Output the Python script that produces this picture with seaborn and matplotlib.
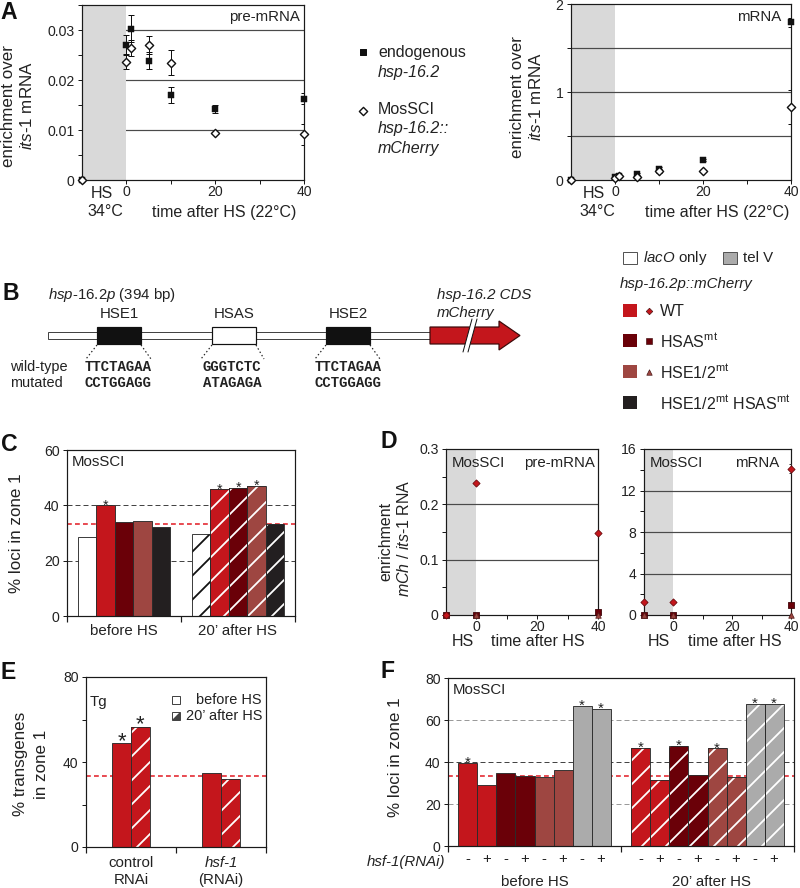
import numpy as np
import pandas as pd
import seaborn as sns
import matplotlib.pyplot as plt
from matplotlib.patches import Rectangle, Polygon
from matplotlib.transforms import offset_copy

sns.set_style("ticks")
plt.rcParams.update({
    'font.family': ['Liberation Sans', 'DejaVu Sans'],
    'mathtext.fontset': 'custom',
    'mathtext.rm': 'Liberation Sans',
    'mathtext.it': 'Liberation Sans:italic',
    'axes.edgecolor': '#1a1a1a',
    'axes.linewidth': 1.2,
    'xtick.color': '#1a1a1a', 'ytick.color': '#1a1a1a',
    'xtick.labelcolor': '#222', 'ytick.labelcolor': '#222',
    'xtick.direction': 'out', 'ytick.direction': 'out',
    'xtick.major.size': 4, 'ytick.major.size': 4,
    'xtick.minor.size': 4, 'ytick.minor.size': 4,
    'xtick.major.width': 1, 'ytick.major.width': 1,
    'xtick.minor.width': 1, 'ytick.minor.width': 1,
    'xtick.labelsize': 14, 'ytick.labelsize': 14,
    'hatch.linewidth': 1.8,
    'text.color': '#222',
})

# colours
RED, DRED, BRN, BLK, GRY = '#C4161C', '#6A0008', '#9E4641', '#231F20', '#ABABAB'

# ---- panel A: pre-mRNA / mRNA time course ----
a_time = [-10, 0, 1, 5, 10, 20, 40]
pre_endo = [0, 0.0271, 0.0303, 0.0239, 0.0170, 0.0143, 0.0163]
pre_endo_err = [0, 0.0020, 0.0027, 0.0017, 0.0016, 0.0008, 0.0011]
pre_mos = [0, 0.0237, 0.0265, 0.0270, 0.0235, 0.0094, 0.0092]
pre_mos_err = [0, 0.0015, 0.0016, 0.0018, 0.0025, 0.0002, 0.0021]
mrna_endo = [0, 0.03, 0.05, 0.07, 0.13, 0.23, 1.79]
mrna_endo_err = [0, 0.01, 0.01, 0.01, 0.02, 0.01, 0.05]
mrna_mos = [0, 0.02, 0.04, 0.03, 0.10, 0.10, 0.83]
mrna_mos_err = [0, 0.01, 0.01, 0.01, 0.02, 0.01, 0.19]

# ---- panel C: MosSCI loci in zone 1 ----
c_groups = ['before HS', '20’ after HS']
c_strains = ['lacO only', 'WT', 'HSASmt', 'HSE1/2mt', 'HSE1/2mt HSASmt']
c_colors = ['white', RED, DRED, BRN, BLK]
c_before = [28.4, 40.0, 34.0, 34.5, 32.3]
c_after = [29.5, 45.8, 46.4, 46.9, 33.1]
c_star_before = [0, 1, 0, 0, 0]
c_star_after = [0, 1, 1, 1, 0]

# ---- panel D: mCherry RNA ----
d_time = [-10, 0, 40]
d_pre_wt = [0, 0.238, 0.148]
d_pre_hsas = [0, 0, 0.006]
d_pre_hse = [0, 0, 0]
d_mrna_wt = [1.25, 1.25, 14.1]
d_mrna_wt_err = [0, 0, 0.45]
d_mrna_hsas = [0, 0, 0.95]
d_mrna_hse = [0, 0, 0]

# ---- panel E: transgenes ----
e_groups = ['control', 'hsf-1']
e_times = ['before HS', '20’ after HS']
e_control = [48.8, 56.7]
e_hsf1 = [34.6, 31.8]
e_star_control = [1, 1]
e_star_hsf1 = [0, 0]

# ---- panel F: MosSCI +/- hsf-1(RNAi) ----
f_groups = ['before HS', '20’ after HS']
f_strains = ['WT -', 'WT +', 'HSAS -', 'HSAS +', 'HSE -', 'HSE +', 'telV -', 'telV +']
f_colors = [RED, RED, DRED, DRED, BRN, BRN, GRY, GRY]
f_signs = ['-', '+', '-', '+', '-', '+', '-', '+']
f_before = [39.4, 29.0, 34.6, 33.3, 33.0, 36.0, 66.6, 65.2]
f_after = [46.9, 31.6, 47.8, 33.6, 46.5, 32.7, 67.6, 67.6]
f_star_before = [1, 0, 0, 0, 0, 0, 1, 1]
f_star_after = [1, 0, 1, 0, 1, 0, 1, 1]

RANDOM = 33.3

W, H = 800, 888
fig = plt.figure(figsize=(W / 72, H / 72), dpi=72)


def box(x0, y0, x1, y1):
    return fig.add_axes([x0 / W, 1 - y1 / H, (x1 - x0) / W, (y1 - y0) / H])


def time_axes(ax, ymax, grid, yticks, ylabels, minor_step, shade_top=False):
    ax.set_xlim(-10, 40)
    ax.set_ylim(0, ymax)
    ax.axvspan(-10, 0, color='#D9D9D9', lw=0, zorder=1.5 if shade_top else 0.5)
    for g in grid:
        ax.axhline(g, color='#4a4a4a', lw=1.2, zorder=1)
    ax.set_yticks(yticks, ylabels)
    ax.set_yticks(np.arange(0, ymax + minor_step / 2, minor_step), minor=True)
    ax.set_xticks([0, 20, 40], ['0', '20', '40'])
    ax.set_xticks([10, 30], minor=True)
    ax.tick_params(axis='x', which='major', pad=1)


def bars(ax, groups, hues, values, colors, width, hatched, stars, star_fs):
    df = pd.DataFrame({'group': [g for g in groups for h in hues],
                       'hue': [h for g in groups for h in hues],
                       'value': values})
    sns.barplot(data=df, x='group', y='value', hue='hue', order=groups, hue_order=hues,
                palette=dict(zip(hues, colors)), width=width, saturation=1,
                errorbar=None, legend=False, edgecolor='#2b2b2b', linewidth=0.9,
                zorder=2, ax=ax)
    patches = sorted(ax.patches, key=lambda p: p.get_x())
    star_tr = offset_copy(ax.transData, fig=fig, y=-4, units='points')
    for p, hatch, star, color in zip(patches, hatched, stars, colors * len(groups)):
        if hatch:
            p.set_hatch('/')
            p.set_edgecolor('#111' if color == 'white' else 'white')
            p.set_linewidth(0)
            ax.add_patch(Rectangle(p.get_xy(), p.get_width(), p.get_height(), fill=False,
                                   ec='#2b2b2b', lw=0.9, zorder=2.1))
        if star:
            ax.text(p.get_x() + p.get_width() / 2, p.get_height(), '*', ha='center',
                    va='baseline', fontsize=star_fs, transform=star_tr, color='#222')
    ax.set_xlabel('')
    ax.set_ylabel('')
    ax.set_xlim(-0.5, 1.5)
    ax.set_xticks([-0.5, 0.5, 1.5], minor=True)
    ax.tick_params(axis='x', which='minor', length=6, width=1.2)
    ax.tick_params(axis='x', which='major', length=0, pad=8, labelsize=15)
    ax.axhline(RANDOM, color='#E3232B', lw=1.6, ls=(0, (3, 2)), zorder=1.2)
    return patches


# ================= A =================
axA1 = box(82, 5, 304, 180)
time_axes(axA1, 0.035, [0.01, 0.02, 0.03], [0, 0.01, 0.02, 0.03],
          ['0', '0.01', '0.02', '0.03'], 0.005, shade_top=True)
axA2 = box(571, 4, 791, 180)
time_axes(axA2, 2, [0.5, 1.0, 1.5], [0, 1, 2], ['0', '1', '2'], 0.5)

for ax, endo, endo_e, mos, mos_e in [(axA1, pre_endo, pre_endo_err, pre_mos, pre_mos_err),
                                     (axA2, mrna_endo, mrna_endo_err, mrna_mos, mrna_mos_err)]:
    ax.errorbar(a_time, endo, yerr=endo_e, fmt='none', ecolor='#111', elinewidth=1,
                capsize=3, capthick=1, zorder=3)
    ax.errorbar(a_time, mos, yerr=mos_e, fmt='none', ecolor='#111', elinewidth=1,
                capsize=3, capthick=1, zorder=3)
    sns.scatterplot(x=a_time, y=endo, marker='s', color='#111', edgecolor='#111', s=32,
                    ax=ax, zorder=4, clip_on=False)
    sns.scatterplot(x=a_time, y=mos, marker='D', color='white', edgecolor='#111',
                    linewidth=1.4, s=34, ax=ax, zorder=5, clip_on=False)

# ================= C =================
axC = box(67, 450, 295, 616)
axC.set_ylim(0, 60)
for g in [20, 40]:
    axC.axhline(g, color='#444', lw=1, ls=(0, (5, 3)), zorder=1)
bars(axC, c_groups, c_strains, c_before + c_after, c_colors, 0.81,
     [False] * 5 + [True] * 5, c_star_before + c_star_after, 14)
axC.set_yticks([0, 20, 40, 60])

# ================= D =================
axD1 = box(446, 449, 598, 615)
time_axes(axD1, 0.3, [0.1, 0.2], [0, 0.1, 0.2, 0.3], ['0', '0.1', '0.2', '0.3'], 0.05)
axD2 = box(644, 449, 791, 615)
time_axes(axD2, 16, [4, 8, 12], [0, 4, 8, 12, 16], ['0', '4', '8', '12', '16'], 2)
axD2.errorbar(d_time, d_mrna_wt, yerr=d_mrna_wt_err, fmt='none', ecolor='#333',
              elinewidth=1, capsize=2.5, zorder=3)
for ax, wt, hsas, hse in [(axD1, d_pre_wt, d_pre_hsas, d_pre_hse),
                          (axD2, d_mrna_wt, d_mrna_hsas, d_mrna_hse)]:
    sns.scatterplot(x=d_time, y=hsas, marker='s', color=DRED, edgecolor='#3a0004',
                    linewidth=0.8, s=34, ax=ax, zorder=4, clip_on=False)
    sns.scatterplot(x=d_time, y=hse, marker='^', color=BRN, edgecolor='#5a2220',
                    linewidth=0.8, s=30, ax=ax, zorder=5, clip_on=False)
    sns.scatterplot(x=d_time, y=wt, marker='D', color=RED, edgecolor='#6a0a0e',
                    linewidth=0.8, s=26, ax=ax, zorder=6, clip_on=False)

# ================= E =================
axE = box(86, 677, 266, 847)
axE.set_ylim(0, 80)
bars(axE, e_groups, e_times, e_control + e_hsf1, [RED, RED], 0.42,
     [False, True, False, True], e_star_control + e_star_hsf1, 22)
axE.set_yticks([0, 40, 80])
axE.set_yticks([20, 60], minor=True)
axE.set_xticks([0, 1], ['', ''])

# ================= F =================
axF = box(448, 678, 794, 846)
axF.set_ylim(0, 80)
for g, c in [(20, '#9a9a9a'), (40, '#444'), (60, '#9a9a9a')]:
    axF.axhline(g, color=c, lw=1, ls=(0, (5, 3)), zorder=1)
fpatches = bars(axF, f_groups, f_strains, f_before + f_after, f_colors, 0.88,
                [False] * 8 + [True] * 8, f_star_before + f_star_after, 15)
axF.set_yticks([0, 20, 40, 60, 80])
axF.set_xticks([p.get_x() + p.get_width() / 2 for p in fpatches], f_signs * 2)
axF.tick_params(axis='x', which='major', length=0, pad=6, labelsize=15)

# ================= overlay: schematic, legends, labels =================
ov = fig.add_axes([0, 0, 1, 1])
ov.set_xlim(0, W)
ov.set_ylim(H, 0)
ov.axis('off')


def T(x, y, s, **kw):
    kw.setdefault('fontsize', 15)
    kw.setdefault('va', 'center')
    ov.text(x, y, s, **kw)


# panel letters
for x, y, s in [(0, 19, 'A'), (2, 300, 'B'), (1, 451, 'C'), (381, 448, 'D'), (1, 679, 'E'), (381, 678, 'F')]:
    ov.text(x, y, s, fontsize=23, fontweight='bold', va='baseline', color='#111')

# A labels
for xc, yc in [(9, 106), (518, 97)]:
    T(xc, yc, 'enrichment over', rotation=90, ha='center', fontsize=17)
    T(xc + 18, yc, r'$\mathit{its}$-$\mathit{1}$ mRNA', rotation=90, ha='center', fontsize=17)
T(300, 17, 'pre-mRNA', ha='right')
T(781, 17, 'mRNA', ha='right')
for xh, xt in [(102, 224), (594, 717)]:
    T(xh, 193, 'HS', ha='center', fontsize=16)
    T(xh + 3, 212, '34°C', ha='center', fontsize=16)
    T(xt, 212, 'time after HS (22°C)', ha='center', fontsize=16)
ov.scatter([363], [52], marker='s', s=32, color='#111')
ov.scatter([363], [111], marker='D', s=34, facecolor='white', edgecolor='#111', linewidth=1.4)
T(378, 52, 'endogenous', fontsize=16)
T(378, 72, 'hsp-16.2', fontsize=16, style='italic')
T(378, 109, 'MosSCI', fontsize=16)
T(378, 129, 'hsp-16.2::', fontsize=16, style='italic')
T(378, 148, 'mCherry', fontsize=16, style='italic')

# B schematic
ov.add_patch(Rectangle((48, 332), 383, 7, fc='white', ec='#444', lw=1))
for x0, x1, fc in [(97, 141, '#111'), (212, 256, 'white'), (326, 370, '#111')]:
    ov.add_patch(Rectangle((x0, 327), x1 - x0, 17, fc=fc, ec='#111', lw=1.2))
ov.add_patch(Polygon([(430, 327), (499, 327), (499, 321), (520, 335.5), (499, 350),
                      (499, 344), (430, 344)], closed=True, fc=RED, ec='#3a0a0a', lw=1.2))
ov.add_patch(Polygon([(463, 352), (472, 319), (477, 319), (468, 352)], closed=True,
                     fc='white', ec='none'))
ov.plot([463, 472], [352, 319], color='#111', lw=1)
ov.plot([468, 477], [352, 319], color='#111', lw=1)
for (x0, y0), (x1, y1) in [((97, 345), (86, 359)), ((141, 345), (151, 359)),
                           ((212, 345), (201, 359)), ((256, 345), (264, 359)),
                           ((326, 345), (315, 359)), ((370, 345), (380, 359))]:
    ov.plot([x0, x1], [y0, y1], color='#222', lw=1.2, ls=(0, (1.2, 2)))
T(48, 295, r'$\mathit{hsp}$-$\mathit{16.2p}$ (394 bp)')
for xc, s in [(119, 'HSE1'), (234, 'HSAS'), (348, 'HSE2')]:
    T(xc, 314, s, ha='center')
T(437, 295, 'hsp-16.2 CDS', style='italic')
T(437, 313, 'mCherry', style='italic')
T(10, 367, 'wild-type', fontsize=14.5)
T(10, 383, 'mutated', fontsize=14.5)
for xc, wt, mt in [(118, 'TTCTAGAA', 'CCTGGAGG'), (232, 'GGGTCTC', 'ATAGAGA'),
                   (348, 'TTCTAGAA', 'CCTGGAGG')]:
    T(xc, 367, wt, ha='center', family='Liberation Mono', fontweight='bold', fontsize=14)
    T(xc, 383, mt, ha='center', family='Liberation Mono', fontweight='bold', fontsize=14)

# B legend
ov.add_patch(Rectangle((623, 252), 14, 12, fc='white', ec='#555', lw=1))
T(643, 258, r'$\mathit{lacO}$ only')
ov.add_patch(Rectangle((723, 252), 14, 12, fc=GRY, ec='#555', lw=1))
T(743, 258, 'tel V')
T(620, 284, 'hsp-16.2p::mCherry', style='italic')
for y, fc, mk, s, lab in [(311, RED, 'D', 22, 'WT'),
                          (341, DRED, 's', 30, r'HSAS$^{\mathrm{mt}}$'),
                          (372, BRN, '^', 30, r'HSE1/2$^{\mathrm{mt}}$'),
                          (403, BLK, None, 0, r'HSE1/2$^{\mathrm{mt}}$ HSAS$^{\mathrm{mt}}$')]:
    ov.add_patch(Rectangle((623, y - 7), 14, 13, fc=fc, ec='none'))
    if mk:
        ov.scatter([649], [y], marker=mk, s=s, color=fc, edgecolor='#3a0a0a', linewidth=0.6)
    T(660, y, lab, fontsize=16)

# C labels
T(17, 533, '% loci in zone 1', rotation=90, ha='center', fontsize=17)
T(72, 462, 'MosSCI')

# D labels
T(386, 541, 'enrichment', rotation=90, ha='center', fontsize=16)
T(404, 538, r'$\mathit{mCh}$ / $\mathit{its}$-$\mathit{1}$ RNA', rotation=90, ha='center', fontsize=16)
T(452, 463, 'MosSCI')
T(595, 463, 'pre-mRNA', ha='right')
T(650, 463, 'MosSCI')
T(779, 463, 'mRNA', ha='right')
for xh, xt in [(463, 538), (659, 735)]:
    T(xh, 642, 'HS', ha='center', fontsize=16)
    T(xt, 642, 'time after HS', ha='center', fontsize=16)

# E labels
T(21, 764, '% transgenes', rotation=90, ha='center', fontsize=17)
T(42, 764, 'in zone 1', rotation=90, ha='center', fontsize=17)
T(90, 702, 'Tg')
ov.add_patch(Rectangle((172, 696), 8, 8, fc='white', ec='#444', lw=1))
ov.add_patch(Rectangle((172, 712), 8, 8, fc='white', ec='#444', lw=1))
ov.add_patch(Polygon([(172, 720), (180, 712), (180, 720)], closed=True, fc='#444', ec='none'))
T(262, 700, 'before HS', ha='right', fontsize=14.5)
T(262, 716, '20’ after HS', ha='right', fontsize=14.5)
T(131, 863, 'control', ha='center')
T(131, 880, 'RNAi', ha='center')
T(221, 863, 'hsf-1', ha='center', style='italic')
T(221, 880, '(RNAi)', ha='center')

# F labels
T(395, 757, '% loci in zone 1', rotation=90, ha='center', fontsize=17)
T(453, 690, 'MosSCI')
T(445, 862, 'hsf-1(RNAi)', ha='right', style='italic')
T(535, 882, 'before HS', ha='center')
T(711, 882, '20’ after HS', ha='center')

fig.savefig('out.png', dpi=72)
